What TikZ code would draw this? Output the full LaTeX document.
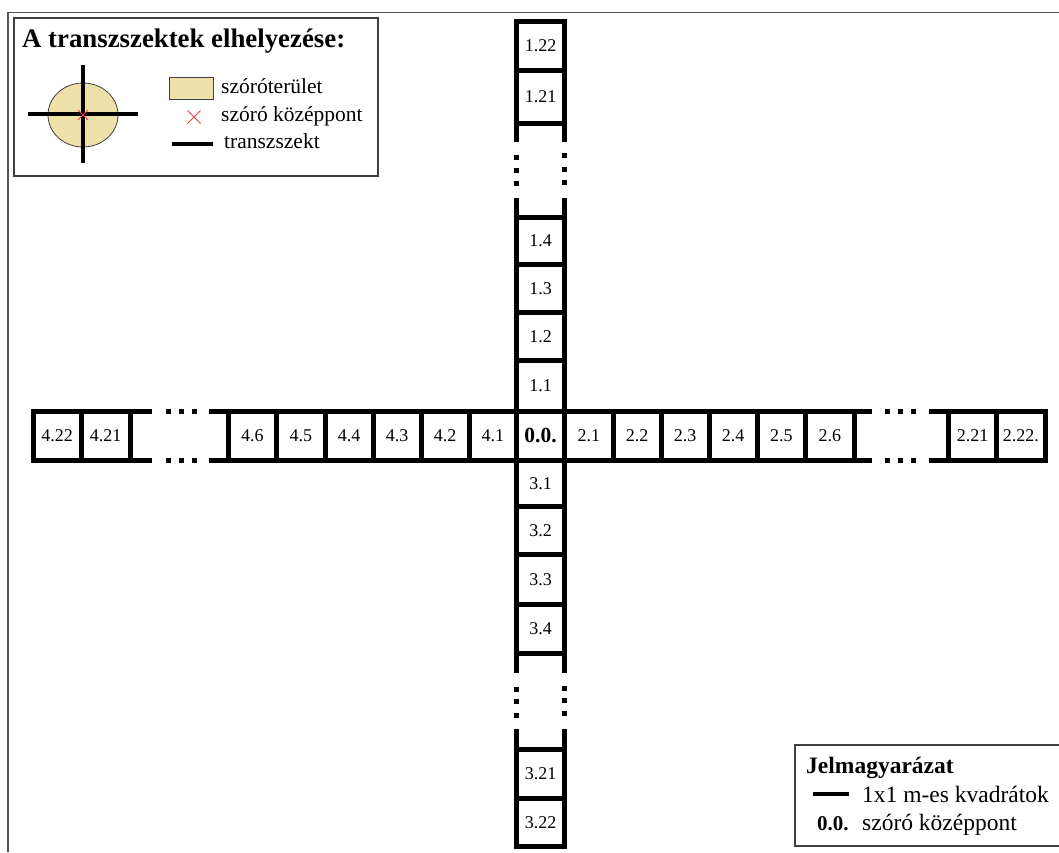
\documentclass[tikz,border=0pt]{standalone}
\usepackage{fontspec}
\setmainfont{Liberation Serif}
\usetikzlibrary{shapes.geometric}
\definecolor{tan}{RGB}{238,224,169}
\definecolor{boxgray}{RGB}{64,64,64}
\definecolor{framegray}{RGB}{85,85,85}
\definecolor{crossred}{RGB}{240,60,60}
\tikzset{
  bar/.style={line width=5pt, line cap=butt},
  cell/.style={draw, line width=5pt, inner sep=0pt, outer sep=0pt, minimum width=48pt, minimum height=48pt, font=\fontsize{18}{18}\selectfont},
  ccell/.style={cell, font=\fontsize{21.5}{21.5}\selectfont\bfseries},
  dotsq/.style={fill=black},
  legbox/.style={draw=boxgray, line width=1.5pt},
  legtext/.style={anchor=base west, inner sep=0pt, font=\fontsize{21.5}{21.5}\selectfont},
  legtextb/.style={anchor=base west, inner sep=0pt, font=\fontsize{23.5}{23.5}\selectfont},
  thick4/.style={line width=4pt, line cap=butt},
}
\newcommand\sqdot[2]{\fill[dotsq] (#1-2.5,#2-2.5) rectangle ++(5,5);}
\begin{document}
\begin{tikzpicture}[x=1pt,y=-1pt]
\useasboundingbox (0,0) rectangle (1059,852);
\fill[white] (0,0) rectangle (1059,852);
% outer frame
\draw[framegray, line width=1.5pt] (7,12.7) -- (1059,12.7);
\draw[framegray, line width=2pt] (8,12) -- (8,852);

% ---- vertical arm, top ----
\node[cell, minimum height=48.5pt] (c122) at (540.5,45.75) {1.22};
\node[cell, minimum height=53pt] (c121) at (540.5,96.5) {1.21};
\node[cell, minimum height=47pt] (c14) at (540.5,241) {1.4};
\node[cell] (c13) at (540.5,288.5) {1.3};
\node[cell] (c12) at (540.5,336.5) {1.2};
\node[cell, minimum height=50.5pt] (c11) at (540.5,385.75) {1.1};
% centre
\node[ccell, minimum height=49.5pt] (c00) at (540.5,435.75) {0.0.};
% ---- vertical arm, bottom ----
\node[cell, minimum height=46pt] (c31) at (540.5,483.5) {3.1};
\node[cell] (c32) at (540.5,530.5) {3.2};
\node[cell, minimum height=49.5pt] (c33) at (540.5,579.25) {3.3};
\node[cell, minimum height=49.5pt] (c34) at (540.5,628.75) {3.4};
\node[cell, minimum height=49pt] (c321) at (540.5,774) {3.21};
\node[cell, minimum height=47.5pt] (c322) at (540.5,822.25) {3.22};
% ---- horizontal arm, right ----
\node[cell, minimum height=49.5pt, minimum width=48.5pt] (c21) at (588.75,435.75) {2.1};
\node[cell, minimum height=49.5pt] (c22) at (637,435.75) {2.2};
\node[cell, minimum height=49.5pt] (c23) at (685,435.75) {2.3};
\node[cell, minimum height=49.5pt] (c24) at (733,435.75) {2.4};
\node[cell, minimum height=49.5pt, minimum width=48.5pt] (c25) at (781.25,435.75) {2.5};
\node[cell, minimum height=49.5pt, minimum width=48.5pt] (c26) at (829.75,435.75) {2.6};
\node[cell, minimum height=49.5pt] (c221) at (972.5,435.75) {2.21};
\node[cell, minimum height=49.5pt, minimum width=48.5pt] (c222) at (1020.75,435.75) {2.22.};
% ---- horizontal arm, left ----
\node[cell, minimum height=49.5pt, minimum width=47.5pt] (c41) at (492.75,435.75) {4.1};
\node[cell, minimum height=49.5pt] (c42) at (445,435.75) {4.2};
\node[cell, minimum height=49.5pt] (c43) at (397,435.75) {4.3};
\node[cell, minimum height=49.5pt] (c44) at (349,435.75) {4.4};
\node[cell, minimum height=49.5pt, minimum width=48.5pt] (c45) at (300.75,435.75) {4.5};
\node[cell, minimum height=49.5pt, minimum width=48.5pt] (c46) at (252.25,435.75) {4.6};
\node[cell, minimum height=49.5pt, minimum width=49pt] (c421) at (105.5,435.75) {4.21};
\node[cell, minimum height=49.5pt] (c422) at (57,435.75) {4.22};

% ---- open ends and gaps ----
% top
\draw[bar] (c121.south west) -- ++(0,19);
\draw[bar] (c121.south east) -- ++(0,19);
\draw[bar] (c14.north west) -- ++(0,-19.5);
\draw[bar] (c14.north east) -- ++(0,-19.5);
\sqdot{516.5}{157.5}\sqdot{516.5}{170.5}\sqdot{516.5}{183.5}
\sqdot{564.5}{155.5}\sqdot{564.5}{169.5}\sqdot{564.5}{182.5}
% bottom
\draw[bar] (c34.south west) -- ++(0,19.5);
\draw[bar] (c34.south east) -- ++(0,19.5);
\draw[bar] (c321.north west) -- ++(0,-20.5);
\draw[bar] (c321.north east) -- ++(0,-20.5);
\sqdot{516.5}{689.5}\sqdot{516.5}{701.5}\sqdot{516.5}{715}
\sqdot{564.5}{688.5}\sqdot{564.5}{700.5}\sqdot{564.5}{713.5}
% right
\draw[bar] (c26.north east) -- ++(18,0);
\draw[bar] (c26.south east) -- ++(18,0);
\draw[bar] (c221.north west) -- ++(-19.5,0);
\draw[bar] (c221.south west) -- ++(-19.5,0);
\sqdot{887.5}{411}\sqdot{900.5}{411}\sqdot{913.5}{411}
\sqdot{887.5}{460.5}\sqdot{900.5}{460.5}\sqdot{913.5}{460.5}
% left
\draw[bar] (c46.north west) -- ++(-19.5,0);
\draw[bar] (c46.south west) -- ++(-19.5,0);
\draw[bar] (c421.north east) -- ++(22,0);
\draw[bar] (c421.south east) -- ++(22,0);
\sqdot{168}{411}\sqdot{181.5}{411}\sqdot{194.5}{411}
\sqdot{168}{460.5}\sqdot{181.5}{460.5}\sqdot{194.5}{460.5}

% ---- top-left legend ----
\draw[legbox] (14,18) rectangle (378,176);
\node[anchor=base west, inner sep=0pt, font=\fontsize{26.8}{26.8}\selectfont\bfseries] (ltitle) at (22,47) {A transzszektek elhelyezése:};
\node[draw=boxgray, line width=0.8pt, fill=tan, ellipse, minimum width=70pt, minimum height=64pt, inner sep=0pt] (ell) at (83,115) {};
\coordinate (hl) at (28,114);
\coordinate (hr) at (138,114);
\coordinate (vt) at (83,65);
\coordinate (vb) at (83,163);
\draw[thick4] (hl) -- (hr);
\draw[thick4] (vt) -- (vb);
\draw[crossred, line width=0.9pt] (78,110) -- (88,120) (78,120) -- (88,110);
\node[draw=boxgray, line width=0.8pt, fill=tan, minimum width=44pt, minimum height=22pt, inner sep=0pt] (swatch) at (191,88) {};
\node[legtext] (l1) at (221,93) {szóróterület};
\draw[crossred, line width=0.9pt] (187.5,110.5) -- (200.5,123.5) (187.5,123.5) -- (200.5,110.5);
\node[legtext] (l2) at (221,121) {szóró középpont};
\coordinate (ta) at (172,144);
\coordinate (tb) at (213,144);
\draw[thick4] (ta) -- (tb);
\node[legtext] (l3) at (224,148) {transzszekt};

% ---- bottom-right legend ----
\draw[legbox] (1059,745) -- (795,745) -- (795,846) -- (1059,846);
\node[legtextb, font=\fontsize{23.5}{23.5}\selectfont\bfseries] (jt) at (806,773) {Jelmagyarázat};
\coordinate (ka) at (813,794);
\coordinate (kb) at (849,794);
\draw[thick4] (ka) -- (kb);
\node[legtextb] (k1) at (862,802) {1x1 m-es kvadrátok};
\node[anchor=base west, inner sep=0pt, font=\fontsize{21}{21}\selectfont\bfseries] (k0) at (817,830.5) {0.0.};
\node[legtextb] (k2) at (862,830.5) {szóró középpont};
\end{tikzpicture}
\end{document}
